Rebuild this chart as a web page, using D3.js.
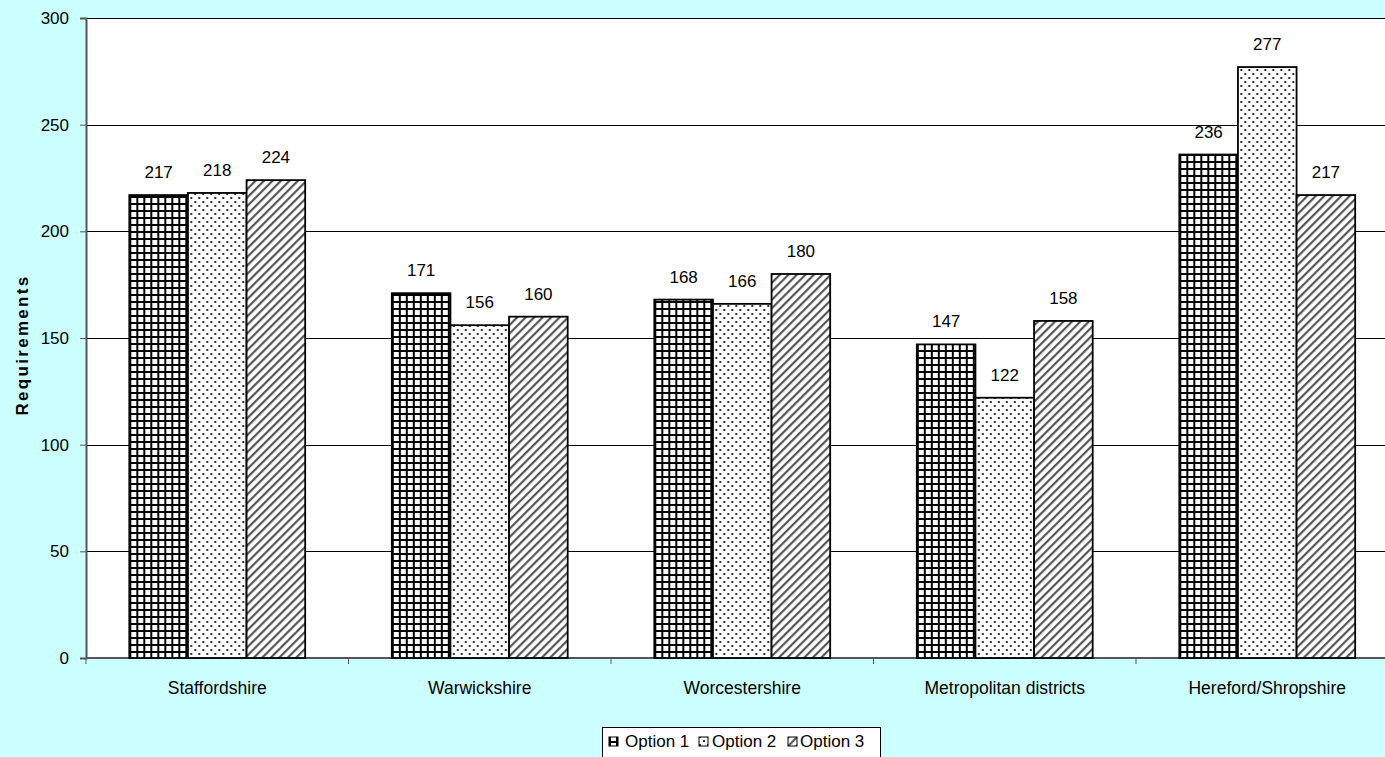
<!DOCTYPE html>
<html>
<head>
<meta charset="utf-8">
<script src="https://cdn.jsdelivr.net/npm/d3@7"></script>
<style>
  body { margin: 0; background: #ccffff; }
  svg { display: block; font-family: "Liberation Sans", Arial, sans-serif; }
</style>
</head>
<body>
<script>
// chart data
const regions = ['Staffordshire', 'Warwickshire', 'Worcestershire', 'Metropolitan districts', 'Hereford/Shropshire'];
const option1 = [217, 171, 168, 147, 236];
const option2 = [218, 156, 166, 122, 277];
const option3 = [224, 160, 180, 158, 217];
const seriesNames = ['Option 1', 'Option 2', 'Option 3'];
const yTicks = [0, 50, 100, 150, 200, 250, 300];

const W = 1385, H = 757;
const plotLeft = 86, plotTop = 18, plotBottom = 658;
const plotRight = plotLeft + 5 * 262.5;

const svg = d3.select('body').append('svg')
  .attr('width', W)
  .attr('height', H);

// patterns for the three options
const defs = svg.append('defs');
const p1 = defs.append('pattern').attr('id', 'pat1')
  .attr('patternUnits', 'userSpaceOnUse').attr('width', 7).attr('height', 7);
p1.append('rect').attr('width', 7).attr('height', 7).attr('fill', '#fff');
p1.append('rect').attr('x', 0).attr('y', 0).attr('width', 2).attr('height', 7).attr('fill', '#000');
p1.append('rect').attr('x', 0).attr('y', 0).attr('width', 7).attr('height', 2).attr('fill', '#000');

const p2 = defs.append('pattern').attr('id', 'pat2')
  .attr('patternUnits', 'userSpaceOnUse').attr('width', 8).attr('height', 8);
p2.append('rect').attr('width', 8).attr('height', 8).attr('fill', '#fff');
p2.append('rect').attr('x', 1).attr('y', 1).attr('width', 2).attr('height', 2).attr('fill', '#333');
p2.append('rect').attr('x', 5).attr('y', 5).attr('width', 2).attr('height', 2).attr('fill', '#333');

const p3 = defs.append('pattern').attr('id', 'pat3')
  .attr('patternUnits', 'userSpaceOnUse').attr('width', 6).attr('height', 6)
  .attr('patternTransform', 'rotate(45)');
p3.append('rect').attr('width', 6).attr('height', 6).attr('fill', '#fff');
p3.append('rect').attr('x', 0).attr('y', 0).attr('width', 2.2).attr('height', 6).attr('fill', '#555');

const fills = ['url(#pat1)', 'url(#pat2)', 'url(#pat3)'];

// scales
const x0 = d3.scaleBand().domain(regions).range([plotLeft, plotRight]).paddingInner(0.33).paddingOuter(0.165);
const x1 = d3.scaleBand().domain(seriesNames).range([0, x0.bandwidth()]);
const y = d3.scaleLinear().domain([0, 300]).range([plotBottom, plotTop]);

// plot area
svg.append('rect')
  .attr('x', plotLeft).attr('y', plotTop)
  .attr('width', W - plotLeft).attr('height', plotBottom - plotTop)
  .attr('fill', '#fff');

// gridlines
svg.append('g').selectAll('line')
  .data(yTicks.filter(d => d > 0))
  .enter().append('line')
  .attr('x1', plotLeft).attr('x2', W)
  .attr('y1', d => Math.round(y(d)) + 0.5).attr('y2', d => Math.round(y(d)) + 0.5)
  .attr('stroke', '#000').attr('stroke-width', 1);

// y axis
const yAxis = svg.append('g')
  .attr('transform', `translate(${plotLeft},0)`)
  .call(d3.axisLeft(y).tickValues(yTicks).tickSize(6).tickPadding(11));
yAxis.select('.domain').attr('stroke', '#555').attr('stroke-width', 2);
yAxis.selectAll('.tick line').attr('stroke', '#555');
yAxis.selectAll('text').attr('font-size', 17).attr('fill', '#000')
  .attr('font-family', '"Liberation Sans", Arial, sans-serif');

// x axis
const catStep = x0.step();
const xTickPos = d3.range(0, 5).map(i => plotLeft + i * catStep);
svg.append('line')
  .attr('x1', plotLeft).attr('x2', W)
  .attr('y1', plotBottom).attr('y2', plotBottom)
  .attr('stroke', '#555').attr('stroke-width', 2);
svg.append('g').selectAll('line')
  .data(xTickPos)
  .enter().append('line')
  .attr('x1', d => d).attr('x2', d => d)
  .attr('y1', plotBottom).attr('y2', plotBottom + 6)
  .attr('stroke', '#555');
svg.append('g').selectAll('text')
  .data(regions)
  .enter().append('text')
  .attr('x', d => x0(d) + x0.bandwidth() / 2)
  .attr('y', 694)
  .attr('text-anchor', 'middle')
  .attr('font-size', 17.5)
  .text(d => d);

// y axis title
svg.append('text')
  .attr('transform', 'translate(28,345) rotate(-90)')
  .attr('text-anchor', 'middle')
  .attr('font-size', 17)
  .attr('font-weight', 'bold')
  .attr('letter-spacing', 2.3)
  .text('Requirements');

// bars
const series = [option1, option2, option3];
const groups = svg.append('g').selectAll('g')
  .data(regions)
  .enter().append('g')
  .attr('transform', d => `translate(${x0(d)},0)`);

groups.selectAll('rect')
  .data((d, i) => series.map((s, k) => ({ name: seriesNames[k], value: s[i], k })))
  .enter().append('rect')
  .attr('x', d => x1(d.name))
  .attr('y', d => y(d.value))
  .attr('width', x1.bandwidth())
  .attr('height', d => plotBottom - y(d.value))
  .attr('fill', d => fills[d.k])
  .attr('stroke', '#000')
  .attr('stroke-width', 1.8);

groups.selectAll('text')
  .data((d, i) => series.map((s, k) => ({ name: seriesNames[k], value: s[i] })))
  .enter().append('text')
  .attr('x', d => x1(d.name) + x1.bandwidth() / 2)
  .attr('y', d => y(d.value) - 17)
  .attr('text-anchor', 'middle')
  .attr('font-size', 17)
  .text(d => d.value);

// legend
const legend = svg.append('g').attr('transform', 'translate(602,727)');
legend.append('rect')
  .attr('x', 0.5).attr('y', 0.5)
  .attr('width', 278).attr('height', 40)
  .attr('fill', '#fff').attr('stroke', '#000');
const markX = [7, 97, 186];
const textX = [23, 110, 198];
seriesNames.forEach((name, i) => {
  legend.append('rect')
    .attr('x', markX[i]).attr('y', 10)
    .attr('width', 9).attr('height', 9)
    .attr('fill', fills[i]).attr('stroke', '#000');
  legend.append('text')
    .attr('x', textX[i]).attr('y', 20)
    .attr('font-size', 17)
    .text(name);
});
</script>
</body>
</html>
